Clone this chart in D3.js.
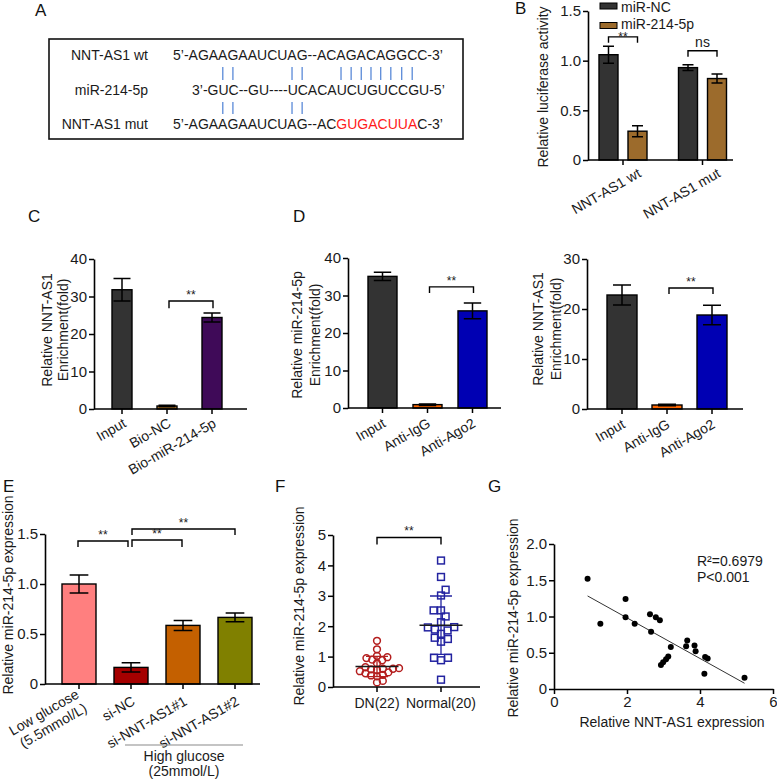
<!DOCTYPE html>
<html><head><meta charset="utf-8">
<script src="https://cdn.jsdelivr.net/npm/d3@7"></script>
<style>body{margin:0;background:#fff}svg{display:block}</style>
</head><body><svg id="fig" width="777" height="781"></svg>
<script>
// ================= DATA =================
// Panel A
const seqRowLabels = ["NNT-AS1 wt", "miR-214-5p", "NNT-AS1 mut"];
const seqWt = "5’-AGAAGAAUCUAG--ACAGACAGGCC-3’";
const seqMiR = "3’-GUC--GU----UCACAUCUGUCCGU-5’";
const seqMutParts = ["5’-AGAAGAAUCUAG--AC", "GUGACUUA", "C-3’"];
const pairIdxTop = [6, 7, 13, 14, 19, 20, 21, 22, 23, 24, 25, 26];
const pairIdxBottom = [6, 7, 13, 14];

// Panel B
const groupsB = ["NNT-AS1 wt", "NNT-AS1 mut"];
const seriesB = ["miR-NC", "miR-214-5p"];
const valuesB_NC = [1.06, 0.93];
const errB_NC = [0.085, 0.03];
const valuesB_214 = [0.29, 0.82];
const errB_214 = [0.055, 0.045];
const ticksB = [0, 0.5, 1.0, 1.5];
const bracketsB = [["NNT-AS1 wt", 1.24, 1.18, "**"], ["NNT-AS1 mut", 1.10, 1.04, "ns"]];

// Panel C
const catsC = ["Input", "Bio-NC", "Bio-miR-214-5p"];
const valuesC = [31.8, 0.8, 24.4];
const errC = [3.0, 0.2, 1.2];
const ticksC = [0, 10, 20, 30, 40];
const bracketsC = [["Bio-NC", "Bio-miR-214-5p", 28.8, 26.9, "**"]];

// Panel D
const catsD = ["Input", "Anti-IgG", "Anti-Ago2"];
const valuesD1 = [35.1, 0.9, 25.9];
const errD1 = [1.1, 0.2, 2.1];
const valuesD2 = [22.8, 0.8, 18.8];
const errD2 = [2.0, 0.15, 1.95];
const ticksD1 = [0, 10, 20, 30, 40];
const ticksD2 = [0, 10, 20, 30];
const bracketsD1 = [["Anti-IgG", "Anti-Ago2", 32.3, 30.7, "**"]];
const bracketsD2 = [["Anti-IgG", "Anti-Ago2", 24.2, 23.0, "**"]];

// Panel E
const catsE = [["Low glucose", "(5.5mmol/L)"], ["si-NC"], ["si-NNT-AS1#1"], ["si-NNT-AS1#2"]];
const valuesE = [1.0, 0.166, 0.586, 0.666];
const errE = [0.09, 0.047, 0.05, 0.043];
const ticksE = [0, 0.5, 1.0, 1.5];
const bracketsE = [[0, 1, 1.43, 1.37, "**"], [1, 2, 1.44, 1.37, "**"], [1, 3, 1.55, 1.49, "**"]];
const groupLabelE = ["High glucose", "(25mmol/L)"];

// Panel F
const groupsF = ["DN(22)", "Normal(20)"];
const valuesDN = [1.52, 1.24, 1.02, 0.98, 0.95, 0.90, 0.88, 0.78, 0.65, 0.62, 0.60, 0.60, 0.58, 0.56, 0.52, 0.48, 0.45, 0.40, 0.38, 0.35, 0.20, 0.15];
const valuesNormal = [4.16, 3.62, 3.20, 3.01, 2.52, 2.52, 2.32, 2.13, 1.97, 1.86, 1.89, 1.96, 1.75, 1.49, 1.58, 1.62, 0.96, 0.88, 0.96, 0.24];
const ticksF = [0, 1, 2, 3, 4, 5];

// Panel G
const nntG = [0.92, 1.27, 1.96, 1.96, 2.21, 2.63, 2.79, 2.90, 2.66, 3.20, 2.93, 2.99, 3.07, 3.13, 3.65, 3.62, 3.85, 3.88, 4.14, 4.21, 4.12, 5.22];
const mirG = [1.52, 0.90, 1.24, 0.99, 0.90, 1.03, 0.99, 0.95, 0.79, 0.58, 0.33, 0.37, 0.41, 0.45, 0.67, 0.59, 0.60, 0.52, 0.44, 0.42, 0.21, 0.155];
const ticksGx = [0, 2, 4, 6];
const ticksGy = [0, 0.5, 1.0, 1.5, 2.0];
const statsG = ["R²=0.6979", "P<0.001"];

// ================= DRAWING =================
const FONT = "'Liberation Sans', Arial, Helvetica, sans-serif";
const svg = d3.select("#fig").attr("font-family", FONT);
svg.append("rect").attr("width", 777).attr("height", 781).attr("fill", "#fff");

const fmtDec = d => d === 0 ? "0" : d3.format(".1f")(d);
const fmtInt = d => d3.format("d")(d);

function styleAxis(a) {
  a.select(".domain").attr("stroke", "#000").attr("stroke-width", 1.6);
  a.selectAll(".tick line").attr("stroke", "#000").attr("stroke-width", 1.5);
  a.selectAll(".tick text").attr("font-size", 15).attr("font-family", FONT).attr("fill", "#1a1a1a");
}
function yAxis(g, y, x, ticks, fmt) {
  const a = g.append("g").attr("transform", `translate(${x},0)`)
    .call(d3.axisLeft(y).tickValues(ticks).tickFormat(fmt).tickSize(5).tickSizeOuter(0).tickPadding(2));
  styleAxis(a);
  return a;
}
function yLabel(g, lines, x, y, lh) {
  const t = g.append("text").attr("transform", `translate(${x},${y}) rotate(-90)`)
    .attr("text-anchor", "middle").attr("font-size", 14).attr("fill", "#1a1a1a");
  lines.forEach((l, j) => t.append("tspan").attr("x", 0).attr("dy", j === 0 ? 0 : lh).text(l));
}
function rotLabel(g, lines, x, y, fs) {
  const t = g.append("text").attr("transform", `translate(${x},${y}) rotate(-30)`)
    .attr("text-anchor", "end").attr("font-size", fs).attr("fill", "#1a1a1a");
  lines.forEach((l, j) => t.append("tspan").attr("x", 0)
    .attr("dy", j === 0 ? (-(lines.length - 1) / 2 * 1.15) + "em" : "1.15em").text(l));
}
function bracket(g, x1, x2, yTop, yLeg, label, starDy) {
  g.append("path").attr("d", `M${x1},${yLeg}V${yTop}H${x2}V${yLeg}`)
    .attr("fill", "none").attr("stroke", "#000").attr("stroke-width", 1.4);
  const dy = label === "**" ? (starDy === undefined ? -2 : starDy) : -4;
  g.append("text").attr("x", (x1 + x2) / 2).attr("y", yTop + dy)
    .attr("text-anchor", "middle").attr("font-size", label === "**" ? 12 : 14).attr("fill", "#1a1a1a").text(label);
}
function errBar(g, cx, y, v, e, cw) {
  g.append("path").attr("d",
    `M${cx},${y(v - e)}V${y(v + e)}M${cx - cw},${y(v + e)}H${cx + cw}M${cx - cw},${y(v - e)}H${cx + cw}`)
    .attr("fill", "none").attr("stroke", "#000").attr("stroke-width", 1.5);
}
function bandScale(keys, c0, c1, bw) {
  const step = (c1 - c0) / (keys.length - 1);
  const pi = (step - bw) / step;
  return d3.scaleBand().domain(keys).range([c0 - step / 2, c1 + step / 2]).paddingInner(pi).paddingOuter(pi / 2);
}

// ---------- Panel letters ----------
[["A", 35, 16], ["B", 515, 14], ["C", 28, 222], ["D", 293, 222], ["E", 3, 492], ["F", 275, 492], ["G", 488, 492]]
  .forEach(([t, x, y]) => svg.append("text").attr("x", x).attr("y", y).attr("font-size", 17).attr("fill", "#111").text(t));

// ---------- Panel A ----------
(function () {
  const g = svg.append("g");
  g.append("rect").attr("x", 49).attr("y", 39).attr("width", 414).attr("height", 100)
    .attr("fill", "none").attr("stroke", "#111").attr("stroke-width", 1.6);
  const rowY = [60, 95, 129];
  seqRowLabels.forEach((t, i) => g.append("text").attr("x", 148).attr("y", rowY[i])
    .attr("text-anchor", "end").attr("font-size", 14).attr("fill", "#1a1a1a").text(t));
  const tWt = g.append("text").attr("x", 173).attr("y", rowY[0]).attr("font-size", 14).attr("fill", "#1a1a1a").text(seqWt);
  g.append("text").attr("x", 192).attr("y", rowY[1]).attr("font-size", 14).attr("fill", "#1a1a1a").text(seqMiR);
  const tMut = g.append("text").attr("x", 173).attr("y", rowY[2]).attr("font-size", 14).attr("fill", "#1a1a1a");
  tMut.selectAll("tspan").data(seqMutParts).join("tspan").attr("fill", (d, i) => i === 1 ? "#ff1a1a" : "#1a1a1a").text(d => d);
  const mid = (node, i) => (node.getStartPositionOfChar(i).x + node.getEndPositionOfChar(i).x) / 2;
  pairIdxTop.forEach(i => { const cx = mid(tWt.node(), i);
    g.append("line").attr("x1", cx).attr("x2", cx).attr("y1", 67).attr("y2", 80).attr("stroke", "#5a8ad8").attr("stroke-width", 1.3); });
  pairIdxBottom.forEach(i => { const cx = mid(tMut.node(), i);
    g.append("line").attr("x1", cx).attr("x2", cx).attr("y1", 102).attr("y2", 114).attr("stroke", "#5a8ad8").attr("stroke-width", 1.3); });
})();

// ---------- Panel B ----------
(function () {
  const g = svg.append("g");
  const y = d3.scaleLinear().domain([0, 1.5]).range([160, 11]);
  const x0 = d3.scalePoint().domain(groupsB).range([623, 702.5]);
  const x1 = d3.scaleBand().domain(seriesB).range([-24, 24]).paddingInner(0.345);
  const colors = ["#333333", "#9c6b2c"];
  const vals = [valuesB_NC, valuesB_214], errs = [errB_NC, errB_214];
  groupsB.forEach((grp, gi) => {
    seriesB.forEach((s, si) => {
      const v = vals[si][gi];
      g.append("rect").attr("x", x0(grp) + x1(s)).attr("width", x1.bandwidth())
        .attr("y", y(v)).attr("height", y(0) - y(v))
        .attr("fill", colors[si]).attr("stroke", "#000").attr("stroke-width", 1.4);
      errBar(g, x0(grp) + x1(s) + x1.bandwidth() / 2, y, v, errs[si][gi], 5.5);
    });
  });
  yAxis(g, y, 588, ticksB, fmtDec);
  g.append("line").attr("x1", 588).attr("x2", 733).attr("y1", y(0)).attr("y2", y(0)).attr("stroke", "#000").attr("stroke-width", 1.6);
  groupsB.forEach(grp => {
    g.append("line").attr("x1", x0(grp)).attr("x2", x0(grp)).attr("y1", y(0)).attr("y2", y(0) + 5).attr("stroke", "#000").attr("stroke-width", 1.5);
    rotLabel(g, [grp], x0(grp) + 19, y(0) + 16, 14);
  });
  bracketsB.forEach(([grp, top, leg, lab]) => {
    const a = x0(grp) + x1(seriesB[0]) + x1.bandwidth() / 2, b = x0(grp) + x1(seriesB[1]) + x1.bandwidth() / 2;
    bracket(g, a, b, y(top), y(leg), lab, 4);
  });
  yLabel(g, ["Relative luciferase activity"], 548, 87, 0);
  seriesB.forEach((s, i) => {
    g.append("rect").attr("x", 600).attr("y", 3 + i * 19.5).attr("width", 17).attr("height", 6)
      .attr("fill", colors[i]).attr("stroke", "#000").attr("stroke-width", 1);
    g.append("text").attr("x", 621).attr("y", 12 + i * 17).attr("font-size", 14).attr("fill", "#1a1a1a").text(s);
  });
})();

// ---------- generic bar panel ----------
function barPanel(o) {
  const g = svg.append("g");
  const y = d3.scaleLinear().domain(o.yDomain).range(o.yRange);
  const keys = o.cats.map(c => Array.isArray(c) ? c.join(" ") : c);
  const x = bandScale(keys, o.c0, o.c1, o.bw);
  const cx = k => x(k) + x.bandwidth() / 2;
  const y0 = y(0);
  g.selectAll("rect.bar").data(keys).join("rect").attr("class", "bar")
    .attr("x", k => x(k)).attr("width", x.bandwidth())
    .attr("y", (k, i) => y(o.values[i])).attr("height", (k, i) => y0 - y(o.values[i]))
    .attr("fill", (k, i) => o.colors[i]).attr("stroke", "#000").attr("stroke-width", 1.4);
  keys.forEach((k, i) => errBar(g, cx(k), y, o.values[i], o.errs[i], x.bandwidth() * o.capFrac / 2));
  yAxis(g, y, o.axisX, o.ticks, o.fmt);
  g.append("line").attr("x1", o.axisX).attr("x2", o.axisEnd).attr("y1", y0).attr("y2", y0).attr("stroke", "#000").attr("stroke-width", 1.6);
  keys.forEach((k, i) => {
    g.append("line").attr("x1", cx(k)).attr("x2", cx(k)).attr("y1", y0).attr("y2", y0 + 5).attr("stroke", "#000").attr("stroke-width", 1.5);
    const lines = Array.isArray(o.cats[i]) ? o.cats[i] : [o.cats[i]];
    rotLabel(g, lines, cx(k) + o.ldx, y0 + o.ldy, 14);
  });
  (o.brackets || []).forEach(b => {
    const ka = typeof b[0] === "number" ? keys[b[0]] : b[0];
    const kb = typeof b[1] === "number" ? keys[b[1]] : b[1];
    const dx = (o.bracketDx && o.bracketDx(b)) || [2, 1];
    bracket(g, cx(ka) + dx[0], cx(kb) + dx[1], y(b[2]), y(b[3]), b[4]);
  });
  yLabel(g, o.ylab, o.ylx, o.yly, o.ylh);
  return { g, x, y, cx };
}

// ---------- Panel C ----------
barPanel({ cats: catsC, values: valuesC, errs: errC, colors: ["#333333", "#c8862c", "#3f0a58"],
  yDomain: [0, 40], yRange: [409, 259], ticks: ticksC, fmt: fmtInt,
  c0: 122, c1: 212, bw: 20, capFrac: 0.85, axisX: 94, axisEnd: 247, ldx: 5, ldy: 17,
  brackets: bracketsC, ylab: ["Relative NNT-AS1", "Enrichment(fold)"], ylx: 52, yly: 330, ylh: "1.15em" });

// ---------- Panel D (left) ----------
barPanel({ cats: catsD, values: valuesD1, errs: errD1, colors: ["#333333", "#ff6600", "#0000b3"],
  yDomain: [0, 40], yRange: [408, 258], ticks: ticksD1, fmt: fmtInt,
  c0: 382.5, c1: 472.5, bw: 29, capFrac: 0.6, axisX: 348, axisEnd: 501, ldx: 4, ldy: 18,
  brackets: bracketsD1, ylab: ["Relative miR-214-5p", "Enrichment(fold)"], ylx: 302, yly: 335, ylh: "1.25em" });

// ---------- Panel D (right) ----------
barPanel({ cats: catsD, values: valuesD2, errs: errD2, colors: ["#333333", "#ff6600", "#0000b3"],
  yDomain: [0, 30], yRange: [409, 259], ticks: ticksD2, fmt: fmtInt,
  c0: 622, c1: 712, bw: 30, capFrac: 0.6, axisX: 587, axisEnd: 743, ldx: 4, ldy: 18,
  brackets: bracketsD2, ylab: ["Relative NNT-AS1", "Enrichment(fold)"], ylx: 543, yly: 329, ylh: "1.3em" });

// ---------- Panel E ----------
(function () {
  const p = barPanel({ cats: catsE, values: valuesE, errs: errE, colors: ["#ff7f7f", "#a50000", "#c46000", "#808000"],
    yDomain: [0, 1.5], yRange: [684, 534], ticks: ticksE, fmt: fmtDec,
    c0: 79, c1: 235, bw: 34, capFrac: 0.55, axisX: 45, axisEnd: 260, ldx: 5, ldy: 20,
    brackets: bracketsE, bracketDx: b => b[0] === 0 ? [-1, -3] : (b[1] === 2 ? [1, -1] : [1, 0]),
    ylab: ["Relative miR-214-5p expression"], ylx: 13, yly: 595, ylh: 0 });
  const g = p.g;
  g.append("line").attr("x1", 125).attr("x2", 243).attr("y1", 745).attr("y2", 745).attr("stroke", "#8a8a8a").attr("stroke-width", 1.2);
  groupLabelE.forEach((t, i) => g.append("text").attr("x", 184).attr("y", 761 + i * 15)
    .attr("text-anchor", "middle").attr("font-size", 14).attr("fill", "#1a1a1a").text(t));
})();

// ---------- Panel F ----------
(function () {
  const g = svg.append("g");
  const y = d3.scaleLinear().domain([0, 5]).range([687, 535]);
  const x = d3.scalePoint().domain(groupsF).range([377, 441]);
  function swarm(vals, d) {
    const placed = [], off = new Array(vals.length);
    vals.map((v, i) => i).sort((a, b) => vals[a] - vals[b]).forEach(i => {
      const py = y(vals[i]);
      const near = placed.filter(p => Math.abs(p.y - py) < d);
      const cands = [0];
      near.forEach(p => { const dx = Math.sqrt(d * d - (p.y - py) ** 2); cands.push(p.x + dx, p.x - dx); });
      cands.sort((a, b) => Math.abs(a) - Math.abs(b));
      const c = cands.find(c => near.every(p => (p.x - c) ** 2 + (p.y - py) ** 2 >= d * d - 0.01));
      off[i] = c; placed.push({ x: c, y: py });
    });
    return off;
  }
  const offDN = swarm(valuesDN, 6.0);
  const offN = swarm(valuesNormal, 7.4);
  const red = "#b41e1e", blue = "#2323a0";
  valuesDN.forEach((v, i) => g.append("circle").attr("cx", x(groupsF[0]) + offDN[i]).attr("cy", y(v)).attr("r", 3.4)
    .attr("fill", "none").attr("stroke", red).attr("stroke-width", 1.5));
  valuesNormal.forEach((v, i) => g.append("rect").attr("x", x(groupsF[1]) + offN[i] - 3.4).attr("y", y(v) - 3.4)
    .attr("width", 6.8).attr("height", 6.8).attr("fill", "none").attr("stroke", blue).attr("stroke-width", 1.5));
  [[valuesDN, red], [valuesNormal, blue]].forEach(([vals, col], gi) => {
    const cx = x(groupsF[gi]), m = d3.mean(vals), s = d3.deviation(vals);
    g.append("path").attr("d", `M${cx},${y(m - s)}V${y(m + s)}M${cx - 11},${y(m + s)}H${cx + 11}M${cx - 11},${y(m - s)}H${cx + 11}`)
      .attr("fill", "none").attr("stroke", col).attr("stroke-width", 1.3);
    g.append("line").attr("x1", cx - 21.5).attr("x2", cx + 21.5).attr("y1", y(m)).attr("y2", y(m))
      .attr("stroke", "#1a1a1a").attr("stroke-width", 1.6);
  });
  yAxis(g, y, 333, ticksF, fmtInt);
  g.append("line").attr("x1", 333).attr("x2", 480).attr("y1", y(0)).attr("y2", y(0)).attr("stroke", "#000").attr("stroke-width", 1.6);
  groupsF.forEach(d => {
    g.append("line").attr("x1", x(d)).attr("x2", x(d)).attr("y1", y(0)).attr("y2", y(0) + 5).attr("stroke", "#000").attr("stroke-width", 1.5);
    g.append("text").attr("x", x(d)).attr("y", 708).attr("text-anchor", "middle").attr("font-size", 14).attr("fill", "#1a1a1a").text(d);
  });
  bracket(g, x(groupsF[0]), x(groupsF[1]), y(4.92), y(4.69), "**");
  yLabel(g, ["Relative miR-214-5p expression"], 304, 606, 0);
})();

// ---------- Panel G ----------
(function () {
  const g = svg.append("g");
  const x = d3.scaleLinear().domain([0, 6]).range([554, 773]);
  const y = d3.scaleLinear().domain([0, 2]).range([689, 544]);
  const mx = d3.mean(nntG), my = d3.mean(mirG);
  const slope = d3.sum(nntG, (d, i) => (d - mx) * (mirG[i] - my)) / d3.sum(nntG, d => (d - mx) * (d - mx));
  const icpt = my - slope * mx;
  const [xa, xb] = d3.extent(nntG);
  g.append("line").attr("x1", x(xa)).attr("x2", x(xb)).attr("y1", y(icpt + slope * xa)).attr("y2", y(icpt + slope * xb))
    .attr("stroke", "#333").attr("stroke-width", 1);
  nntG.forEach((v, i) => g.append("circle").attr("cx", x(v)).attr("cy", y(mirG[i])).attr("r", 3).attr("fill", "#000"));
  yAxis(g, y, 554, ticksGy, fmtDec);
  const ax = g.append("g").attr("transform", `translate(0,${y(0)})`)
    .call(d3.axisBottom(x).tickValues(ticksGx).tickFormat(fmtInt).tickSize(5).tickSizeOuter(0).tickPadding(2));
  styleAxis(ax);
  statsG.forEach((t, i) => g.append("text").attr("x", 697).attr("y", 566 + i * 16).attr("font-size", 14).attr("fill", "#1a1a1a").text(t));
  g.append("text").attr("x", 672).attr("y", 727).attr("text-anchor", "middle").attr("font-size", 14).attr("fill", "#1a1a1a").text("Relative NNT-AS1 expression");
  yLabel(g, ["Relative miR-214-5p expression"], 518, 618, 0);
})();
</script></body></html>
